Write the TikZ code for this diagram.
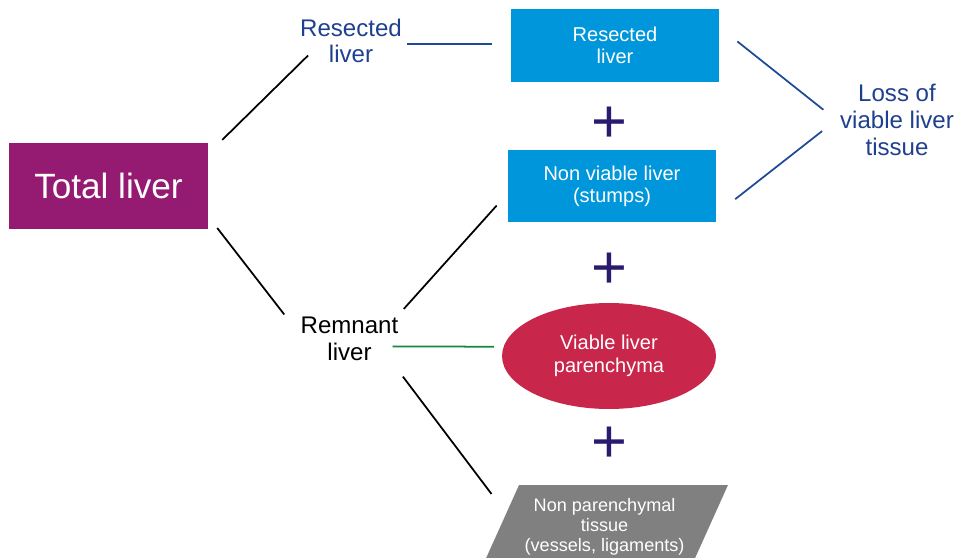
\documentclass[tikz,border=0pt]{standalone}
\usepackage{fontspec}
\setmainfont{Liberation Sans}
\usetikzlibrary{shapes.geometric}
\definecolor{totalpurple}{HTML}{951B72}
\definecolor{boxblue}{HTML}{0096DB}
\definecolor{viared}{HTML}{C8264A}
\definecolor{npgrey}{HTML}{808080}
\definecolor{textblue}{HTML}{1F3F8F}
\definecolor{plusnavy}{HTML}{2B1B6E}
\definecolor{linkgreen}{HTML}{13893F}
\definecolor{linkblue}{HTML}{1F4A96}
\begin{document}
\begin{tikzpicture}[x=0.02cm, y=-0.02cm,
    box/.style={fill=boxblue, text=white, align=center, inner sep=0pt,
        minimum width=4.16cm, minimum height=1.46cm,
        font=\fontsize{11.4}{12.7}\selectfont},
    bluetext/.style={text=textblue, align=center, inner sep=2pt,
        font=\fontsize{13.7}{15.2}\selectfont},
    plaintext/.style={align=center, inner sep=2pt,
        font=\fontsize{13.7}{15.2}\selectfont},
    plus/.style={text=plusnavy, inner sep=0pt, font=\fontsize{35}{35}\selectfont},
    link/.style={line width=1pt}]
    \useasboundingbox (0, 0) rectangle (958, 558);
    \node [fill=totalpurple, text=white, minimum width=3.98cm, minimum height=1.72cm,
        font=\fontsize{20}{24}\selectfont] (total) at (108.5, 186) {Total liver};
    \node [bluetext] (restxt) at (351, 41) {Resected\\liver};
    \node [plaintext] (remtxt) at (349.5, 339) {Remnant\\liver};
    \node [bluetext] (loss) at (897, 120) {Loss of\\viable liver\\tissue};
    \node [box] (resbox) at (615, 45.5) {Resected\\liver};
    \node [box, minimum height=1.44cm] (nonviable) at (612, 186) {Non viable liver\\(stumps)};
    \node [ellipse, fill=viared, text=white, align=center, inner sep=0pt,
        minimum width=4.28cm, minimum height=2.12cm,
        font=\fontsize{11.4}{12.9}\selectfont] (via) at (609, 356) {Viable liver\\parenchyma};
    \node [trapezium, trapezium left angle=58, trapezium right angle=122,
        trapezium stretches=true, fill=npgrey, text=white, align=center, inner sep=0pt,
        minimum width=4.94cm, minimum height=1.68cm,
        font=\fontsize{10.3}{11.3}\selectfont] (npt) at (604.6, 527)
        {Non parenchymal\\tissue\\(vessels, ligaments)};
    \node [plus] (p1) at (609, 124.7) {+};
    \node [plus] (p2) at (609, 270.7) {+};
    \node [plus] (p3) at (609, 444.7) {+};
    \draw [link, shorten <=0.39cm, shorten >=-0.33cm] (total.18) -- (restxt.south west);
    \draw [link, shorten <=0.29cm, shorten >=0.41cm] (total.-17.5) -- (remtxt.171);
    \draw [link, shorten <=0.12cm, shorten >=0.33cm] (remtxt.27) -- (nonviable.184);
    \draw [link, linkgreen, shorten <=-0.19cm, shorten >=0.19cm] (remtxt.-8) -- (via.175);
    \draw [link, shorten <=0.3cm, shorten >=0.48cm] (remtxt.-30) -- (npt.172);
    \draw [link, linkblue, shorten <=0.03cm, shorten >=0.38cm] (restxt.-3) -- (restxt.-3 -| resbox.west);
    \draw [link, linkblue, shorten <=0.46cm, shorten >=0.33cm] (resbox.10) -- (loss.west);
    \draw [link, linkblue, shorten <=0.48cm, shorten >=0.36cm] (nonviable.-15) -- (loss.west);
\end{tikzpicture}
\end{document}
